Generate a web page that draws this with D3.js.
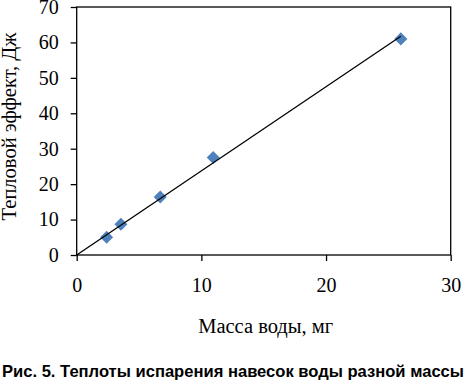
<!DOCTYPE html>
<html>
<head>
<meta charset="utf-8">
<script src="https://cdn.jsdelivr.net/npm/d3@7"></script>
<style>
  html, body { margin: 0; padding: 0; background: #fff; }
  svg { display: block; }
</style>
</head>
<body>
<svg id="chart" width="466" height="382"></svg>
<script>
// Data
const massMg = [2.4, 3.55, 6.7, 10.95, 26.0];
const heatJ = [5.0, 8.7, 16.4, 27.5, 61.0];
const xTicks = [0, 10, 20, 30];
const yTicks = [0, 10, 20, 30, 40, 50, 60, 70];
const xTitle = "Масса воды, мг";
const yTitle = "Тепловой эффект, Дж";
const caption = "Рис. 5. Теплоты испарения навесок воды разной массы";

const svg = d3.select("#chart");
const m = { left: 76.7, right: 450.7, top: 7, bottom: 255 };

const x = d3.scaleLinear().domain([0, 30]).range([m.left, m.right]);
const y = d3.scaleLinear().domain([0, 70]).range([m.bottom, m.top]);

// frame
svg.append("rect")
  .attr("x", m.left).attr("y", m.top)
  .attr("width", m.right - m.left).attr("height", m.bottom - m.top)
  .attr("fill", "none").attr("stroke", "#000").attr("stroke-width", 1.3);

const serif = "'Liberation Serif', 'Times New Roman', serif";

// y axis
const yAxis = svg.append("g")
  .attr("transform", `translate(${m.left},0)`)
  .call(d3.axisLeft(y).tickValues(yTicks).tickSize(6).tickPadding(12).tickFormat(d3.format("d")));
yAxis.select(".domain").remove();
yAxis.selectAll("line").attr("stroke", "#000").attr("stroke-width", 1.3);
yAxis.selectAll("text").attr("font-family", serif).attr("font-size", 20).attr("fill", "#000");

// x axis
const xAxis = svg.append("g")
  .attr("transform", `translate(0,${m.bottom})`)
  .call(d3.axisBottom(x).tickValues(xTicks).tickSize(6).tickPadding(17).tickFormat(d3.format("d")));
xAxis.select(".domain").remove();
xAxis.selectAll("line").attr("stroke", "#000").attr("stroke-width", 1.3);
xAxis.selectAll("text").attr("font-family", serif).attr("font-size", 20).attr("fill", "#000");

// markers
const diamond = d3.symbol().type(d3.symbolSquare).size(85);
svg.append("g").selectAll("path")
  .data(massMg.map((v, i) => [v, heatJ[i]]))
  .join("path")
  .attr("d", diamond)
  .attr("transform", d => `translate(${x(d[0])},${y(d[1])}) rotate(45)`)
  .attr("fill", "#4F81BD");

// trendline through the origin (least squares)
const slope = d3.sum(massMg, (v, i) => v * heatJ[i]) / d3.sum(massMg, v => v * v);
const xMax = d3.max(massMg);
svg.append("line")
  .attr("x1", x(0)).attr("y1", y(0))
  .attr("x2", x(xMax)).attr("y2", y(slope * xMax))
  .attr("stroke", "#000").attr("stroke-width", 1.3);

// axis titles
svg.append("text")
  .attr("x", (m.left + m.right) / 2 + 2).attr("y", 333)
  .attr("text-anchor", "middle")
  .attr("font-family", serif).attr("font-size", 20.5).attr("fill", "#000")
  .text(xTitle);

svg.append("text")
  .attr("transform", `translate(16,126.5) rotate(-90)`)
  .attr("text-anchor", "middle")
  .attr("font-family", serif).attr("font-size", 20.5).attr("fill", "#000")
  .text(yTitle);

// caption
svg.append("text")
  .attr("x", 2).attr("y", 377)
  .attr("font-family", "'Liberation Sans', Arial, sans-serif")
  .attr("font-weight", "bold").attr("font-size", 16.5).attr("fill", "#000")
  .attr("textLength", 462).attr("lengthAdjust", "spacingAndGlyphs")
  .text(caption);
</script>
</body>
</html>
